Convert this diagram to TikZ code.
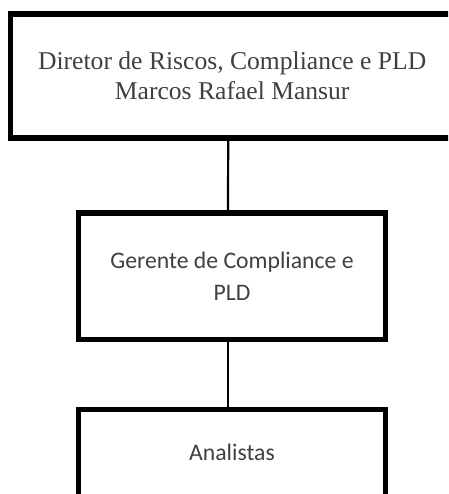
\documentclass[tikz,border=0pt]{standalone}
\usepackage{fontspec}
\setmainfont{Liberation Serif}
\newfontfamily\boxsans{Carlito}
\definecolor{txtgray}{HTML}{404040}
\begin{document}
\begin{tikzpicture}[x=1pt,y=-1pt,
  orgbox/.style={draw=black, line width=5.5pt, fill=white, rectangle, inner sep=0pt, text=txtgray, align=center},
  conn/.style={draw=black, line width=2.2pt}]
\useasboundingbox (0,0) rectangle (448,494);
\clip (0,0) rectangle (448,494);
\node[orgbox, minimum width=443.5pt, minimum height=124pt,
  font=\fontsize{25.6}{30}\selectfont] (dir) at (232.2,76)
  {Diretor de Riscos, Compliance e PLD\\Marcos Rafael Mansur};
\node[orgbox, minimum width=306.6pt, minimum height=126.5pt,
  font=\boxsans\fontsize{23.7}{32}\selectfont] (ger) at (232,276.25)
  {Gerente de Compliance e\\PLD};
\node[orgbox, minimum width=306.6pt, minimum height=95pt, text depth=10pt,
  font=\boxsans\fontsize{23.7}{32}\selectfont] (ana) at (232,457)
  {Analistas};
\draw[conn] ([xshift=-4pt]dir.south) -- ([xshift=-4pt]ger.north);
\draw[conn] ([xshift=-4pt]ger.south) -- ([xshift=-4pt]ana.north);
\end{tikzpicture}
\end{document}
